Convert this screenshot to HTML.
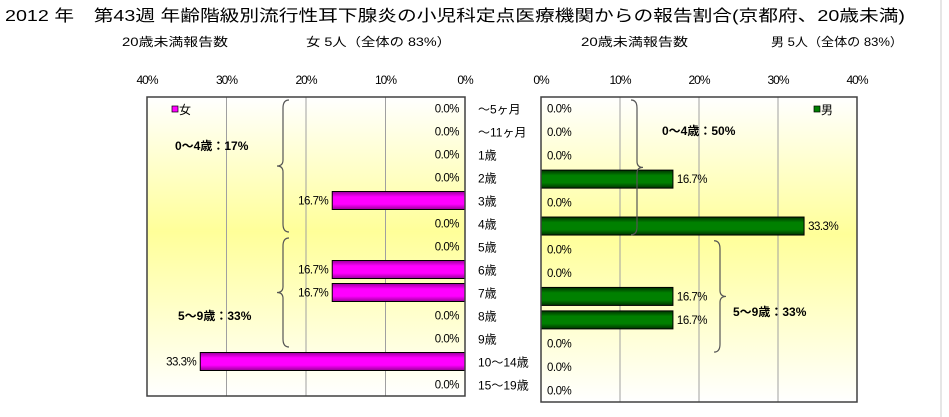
<!DOCTYPE html>
<html><head><meta charset="utf-8"><style>
html,body{margin:0;padding:0;background:#fff;}
svg{display:block;font-family:"Liberation Sans","Noto Sans CJK JP",sans-serif;}
</style></head><body>
<svg id="c" width="949" height="417" viewBox="0 0 949 417" xmlns="http://www.w3.org/2000/svg">
<defs>
<linearGradient id="bg" x1="0" y1="0" x2="0" y2="1">
<stop offset="0" stop-color="#ffffff"/><stop offset="0.45" stop-color="#ffff99"/><stop offset="1" stop-color="#ffffff"/>
</linearGradient>
<linearGradient id="mg" x1="0" y1="0" x2="0" y2="1">
<stop offset="0" stop-color="#990099"/><stop offset="0.3" stop-color="#ff00ff"/><stop offset="0.7" stop-color="#ff00ff"/><stop offset="1" stop-color="#990099"/>
</linearGradient>
<linearGradient id="gg" x1="0" y1="0" x2="0" y2="1">
<stop offset="0" stop-color="#003300"/><stop offset="0.3" stop-color="#008000"/><stop offset="0.7" stop-color="#008000"/><stop offset="1" stop-color="#003300"/>
</linearGradient>
</defs>
<line x1="941" y1="0" x2="941" y2="417" stroke="#ccc"/>
<text x="5" y="21" font-size="16" textLength="900" lengthAdjust="spacingAndGlyphs">2012 年　第43週 年齢階級別流行性耳下腺炎の小児科定点医療機関からの報告割合(京都府、20歳未満)</text>
<text x="122" y="46" font-size="12" textLength="106" lengthAdjust="spacingAndGlyphs">20歳未満報告数</text>
<text x="306" y="46" font-size="12" textLength="145" lengthAdjust="spacingAndGlyphs">女 5人（全体の 83%）</text>
<text x="581" y="46" font-size="12" textLength="107" lengthAdjust="spacingAndGlyphs">20歳未満報告数</text>
<text x="771" y="46" font-size="12" textLength="132" lengthAdjust="spacingAndGlyphs">男 5人（全体の 83%）</text>
<g id="L"></g>
<g id="R"></g>
<g id="cats"></g>
</svg>
<script>
const categories = ["～5ヶ月","～11ヶ月","1歳","2歳","3歳","4歳","5歳","6歳","7歳","8歳","9歳","10～14歳","15～19歳"];
const femaleValues = [0,0,0,0,16.7,0,0,16.7,16.7,0,0,33.3,0];
const maleValues = [0,0,0,16.7,0,33.3,0,0,16.7,16.7,0,0,0];
const tickValues = [0,10,20,30,40];
const groupLabelsF = ["0～4歳：17%","5～9歳：33%"];
const groupLabelsM = ["0～4歳：50%","5～9歳：33%"];
const NS="http://www.w3.org/2000/svg";
function mk(tag,attrs,parent,txt){const e=document.createElementNS(NS,tag);for(const k in attrs)e.setAttribute(k,attrs[k]);if(txt!=null)e.textContent=txt;parent.appendChild(e);return e;}
const MAXV=40;
function panel(g,x0,x1,y0,y1,vals,dir,fill,legend,legendX,groups,bracket){
  const w=x1-x0, rowH=(y1-y0)/categories.length;
  const xs = v => dir<0 ? x1 - v/MAXV*w : x0 + v/MAXV*w;
  const ys = i => y0 + (i+0.5)*rowH;
  const bg=mk('rect',{x:x0,y:y0,width:w,height:y1-y0,fill:'url(#bg)'},g);
  
  
  tickValues.forEach(t=>{
    const x=xs(t);
    if(t>0&&t<MAXV){const l=mk('line',{x1:x,y1:y0,x2:x,y2:y1,stroke:'#a0a0a0'},g);
      
      }
    const tx=mk('text',{x:x,y:y0-13,'font-size':12,'text-anchor':'middle','letter-spacing':'-1'},g,t+'%');
    
    
  });
  const bh=18;
  vals.forEach((v,i)=>{
    const y=ys(i);
    if(v>0){
      const xa=xs(v), xb=xs(0);
      const r=mk('rect',{x:Math.min(xa,xb),y:y-bh/2,width:Math.abs(xb-xa),height:bh,fill:fill,stroke:'#000','stroke-width':1},g);
      
      
      const lt=mk('text',{x:dir<0?xa-4:xa+4,y:y+4,'font-size':11.5,'text-anchor':dir<0?'end':'start','letter-spacing':'-0.5'},g,v.toFixed(1)+'%');
      
      
    } else {
      const lt=mk('text',{x:dir<0?x1-6:x0+6,y:y+4,'font-size':11.5,'text-anchor':dir<0?'end':'start','letter-spacing':'-0.5'},g,'0.0%');
      
      
    }
  });
  const fr=mk('rect',{x:x0,y:y0,width:w,height:y1-y0,fill:'none',stroke:'#404040','stroke-width':1.5},g);
  
  
  const lg=mk('g',{},g);
  
  
  mk('rect',{x:legendX,y:y0+9,width:6,height:6,fill:fill==='url(#mg)'?'#ff00ff':'#008000',stroke:'#000','stroke-width':0.7},lg);
  mk('text',{x:legendX+7,y:y0+17,'font-size':12},lg,legend);
  bracket.forEach(b=>{
    const ya=ys(b.from)-rowH/2+3, yb=ys(b.to)+rowH/2-3, ym=(ya+yb)/2, x=b.x, s=b.side;
    const p=mk('path',{d:`M${x+6*s},${ya} Q${x},${ya} ${x},${ya+8} L${x},${ym-6} Q${x},${ym} ${x-6*s},${ym} Q${x},${ym} ${x},${ym+6} L${x},${yb-8} Q${x},${yb} ${x+6*s},${yb}`,fill:'none',stroke:'#555','stroke-width':1.2},g);
    
    
    const t=mk('text',{x:b.tx,y:b.ty,'font-size':12,'font-weight':'bold'},g,b.label);
    
    
  });
  return ys;
}
const L=document.getElementById('L'),R=document.getElementById('R'),C=document.getElementById('cats');
const ysL=panel(L,147,465,97,396,femaleValues,-1,'url(#mg)','女',172,[],
 [{from:0,to:5,x:283,side:1,label:groupLabelsF[0],tx:175,ty:150},{from:6,to:10,x:283,side:1,label:groupLabelsF[1],tx:178,ty:320}]);
panel(R,541,857,97,402,maleValues,1,'url(#gg)','男',814,[],
 [{from:0,to:5,x:637,side:-1,label:groupLabelsM[0],tx:662,ty:135},{from:6,to:10,x:720,side:-1,label:groupLabelsM[1],tx:733,ty:316}]);
categories.forEach((c,i)=>{
  const t=mk('text',{x:478,y:ysL(i)+5,'font-size':12},C,c);
  
  
});
</script>
</body></html>
